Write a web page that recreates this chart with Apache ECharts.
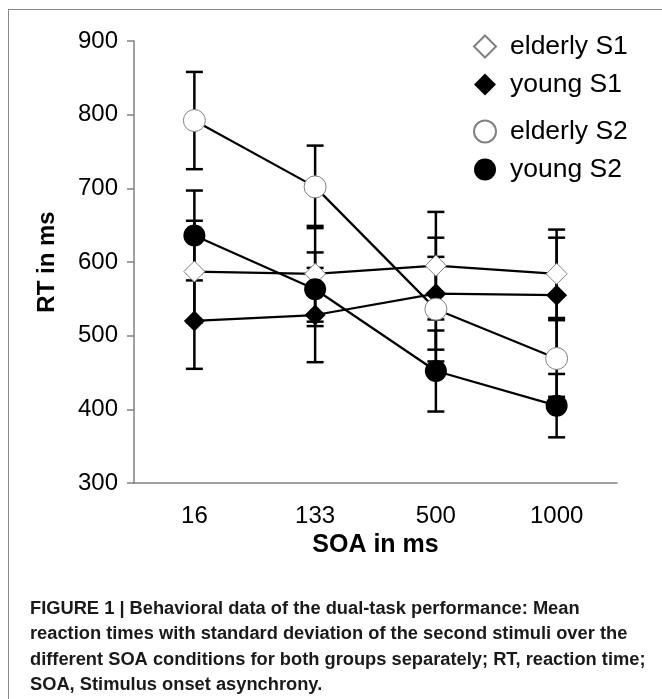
<!DOCTYPE html>
<html>
<head>
<meta charset="utf-8">
<script src="https://cdn.jsdelivr.net/npm/echarts@6/dist/echarts.min.js"></script>
<style>
html,body{margin:0;padding:0;background:#fff;}
#frame{position:absolute;left:8px;top:9px;width:700px;height:700px;border-left:1.5px solid #888;border-top:1.5px solid #888;}
#container1{position:absolute;left:0;top:0;width:662px;height:699px;}
</style>
</head>
<body>
<div id="frame"></div>
<div id="container1"></div>
<script>
// SOA conditions (ms)
var soa=['16','133','500','1000'];
// mean RT and SD per group / stimulus
var elderlyS1=[587,584,595,584];
var elderlyS1Sd=[69,65,73,60];
var youngS1=[520,528,557,555];
var youngS1Sd=[65,64,76,78];
var elderlyS2=[792,702,536,469];
var elderlyS2Sd=[66,56,71,52];
var youngS2=[636,563,452,405];
var youngS2Sd=[61,50,55,43];

var yTicks={min:300,max:900,interval:100};

var caption='FIGURE 1 | Behavioral data of the dual-task performance: Mean\n'+
	'reaction times with standard deviation of the second stimuli over the\n'+
	'different SOA conditions for both groups separately; RT, reaction time;\n'+
	'SOA, Stimulus onset asynchrony.';

var fontFam='Liberation Sans, Arial, sans-serif';

function errBars(name,mean,sd){
	var data=[];
	for(var i=0;i<mean.length;++i){
		data[i]=[i,mean[i],sd[i]];
	}
	return {
		name:name+' sd',
		type:'custom',
		z:1,
		silent:true,
		encode:{x:0,y:1},
		renderItem:function(params,api){
			var top=api.coord([api.value(0),api.value(1)+api.value(2)]);
			var bot=api.coord([api.value(0),api.value(1)-api.value(2)]);
			var hw=8.5;
			var st={stroke:'#000',lineWidth:2.5};
			return {type:'group',children:[
				{type:'line',shape:{x1:top[0],y1:top[1],x2:bot[0],y2:bot[1]},style:st},
				{type:'line',shape:{x1:top[0]-hw,y1:top[1],x2:top[0]+hw,y2:top[1]},style:st},
				{type:'line',shape:{x1:bot[0]-hw,y1:bot[1],x2:bot[0]+hw,y2:bot[1]},style:st}
			]};
		},
		data:data
	};
}

function lineSeries(name,data,symbol,filled){
	return {
		name:name,
		type:'line',
		data:data,
		z:3,
		symbol:symbol,
		symbolSize:symbol=='diamond'?21:22,
		showAllSymbol:true,
		lineStyle:{color:'#000',width:2.2},
		itemStyle:filled?{color:'#000',borderColor:'#000',borderWidth:0}:{color:'#fff',borderColor:'#808080',borderWidth:1},
		emphasis:{disabled:true}
	};
}

var legendText={color:'#000',fontSize:26.5,fontFamily:fontFam,lineHeight:26,padding:[0,0,0,9]};

var option={
	animation:false,
	title:{
		text:caption,
		left:25,
		top:591,
		textStyle:{color:'#1a1a1a',fontSize:18.3,fontWeight:'bold',fontFamily:fontFam,lineHeight:25.5}
	},
	legend:[
		{
			orient:'vertical',
			left:468,
			top:28,
			itemWidth:22,
			itemHeight:22,
			itemGap:11,
			selectedMode:false,
			textStyle:legendText,
			data:[
				{name:'elderly S1',icon:'diamond'},
				{name:'young S1',icon:'diamond'}
			]
		},
		{
			orient:'vertical',
			left:468,
			top:113,
			itemWidth:22,
			itemHeight:22,
			itemGap:11,
			selectedMode:false,
			textStyle:legendText,
			data:[
				{name:'elderly S2',icon:'circle'},
				{name:'young S2',icon:'circle'}
			]
		}
	],
	grid:{left:134,right:45,top:41,bottom:216},
	xAxis:{
		type:'category',
		data:soa,
		boundaryGap:true,
		name:'SOA in ms',
		nameLocation:'middle',
		nameGap:50,
		nameTextStyle:{color:'#000',fontSize:25,fontWeight:'bold',fontFamily:fontFam},
		axisLine:{lineStyle:{color:'#808080',width:1.5}},
		axisTick:{length:5,lineStyle:{color:'#808080',width:1.5}},
		axisLabel:{color:'#000',fontSize:24,margin:21,fontFamily:fontFam}
	},
	yAxis:{
		type:'value',
		min:yTicks.min,
		max:yTicks.max,
		interval:yTicks.interval,
		name:'RT in ms',
		nameLocation:'middle',
		nameRotate:90,
		nameGap:75,
		nameTextStyle:{color:'#000',fontSize:24,fontWeight:'bold',fontFamily:fontFam},
		axisLine:{show:true,lineStyle:{color:'#808080',width:1.5}},
		axisTick:{show:true,length:7,lineStyle:{color:'#808080',width:1.5}},
		splitLine:{show:false},
		axisLabel:{color:'#000',fontSize:24,margin:16,fontFamily:fontFam}
	},
	series:[
		errBars('elderly S1',elderlyS1,elderlyS1Sd),
		errBars('young S1',youngS1,youngS1Sd),
		errBars('elderly S2',elderlyS2,elderlyS2Sd),
		errBars('young S2',youngS2,youngS2Sd),
		lineSeries('elderly S1',elderlyS1,'diamond',false),
		lineSeries('young S1',youngS1,'diamond',true),
		lineSeries('elderly S2',elderlyS2,'circle',false),
		lineSeries('young S2',youngS2,'circle',true)
	]
};

var myChart=echarts.init(document.getElementById('container1'));
myChart.setOption(option);
</script>
</body>
</html>
